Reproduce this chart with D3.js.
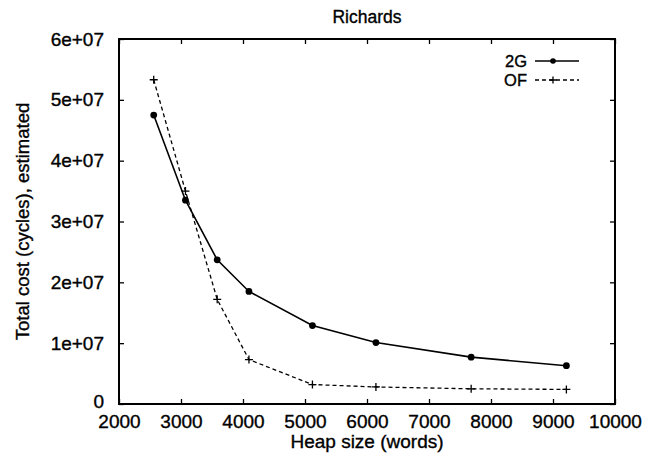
<!DOCTYPE html>
<html><head><meta charset="utf-8">
<script src="https://cdn.jsdelivr.net/npm/d3@7"></script>
<style>body{margin:0;background:#fff}svg{display:block}text{stroke:#000;stroke-width:0.35px}</style>
</head><body>
<script>
const heapSizes = [2560, 3072, 3584, 4096, 5120, 6144, 7680, 9216];
const cost2G = [4.75e7, 3.35e7, 2.37e7, 1.85e7, 1.29e7, 1.01e7, 0.77e7, 0.63e7];
const costOF = [5.33e7, 3.50e7, 1.72e7, 0.73e7, 0.32e7, 0.28e7, 0.25e7, 0.24e7];
const xTicks = [2000, 3000, 4000, 5000, 6000, 7000, 8000, 9000, 10000];
const yTicks = [0, 1e7, 2e7, 3e7, 4e7, 5e7, 6e7];
const yTickLabels = ["0", "1e+07", "2e+07", "3e+07", "4e+07", "5e+07", "6e+07"];
const seriesNames = ["2G", "OF"];

const W = 665, H = 457;
const m = {left: 119, right: 615, top: 39, bottom: 404};
const svg = d3.select("body").append("svg").attr("width", W).attr("height", H)
  .style("font-family", "'Liberation Sans', Arial, sans-serif");

const x = d3.scaleLinear().domain([2000, 10000]).range([m.left, m.right]);
const y = d3.scaleLinear().domain([0, 6e7]).range([m.bottom, m.top]);

const fs = "19px";
const tl = 5;
const xb = svg.append("g").attr("transform", `translate(0,${m.bottom})`)
  .call(d3.axisBottom(x).tickValues(xTicks).tickSize(-tl).tickPadding(11).tickFormat(d3.format("d")));
const xt = svg.append("g").attr("transform", `translate(0,${m.top})`)
  .call(d3.axisTop(x).tickValues(xTicks).tickSize(-tl).tickFormat(""));
const yl = svg.append("g").attr("transform", `translate(${m.left},0)`)
  .call(d3.axisLeft(y).tickValues(yTicks).tickSize(-tl).tickPadding(15).tickFormat((d,i)=>yTickLabels[i]));
const yr = svg.append("g").attr("transform", `translate(${m.right},0)`)
  .call(d3.axisRight(y).tickValues(yTicks).tickSize(-tl).tickFormat(""));
[xb, xt, yl, yr].forEach(g => {
  g.select(".domain").remove();
  g.selectAll(".tick line").attr("stroke", "#000").attr("stroke-width", 1.3);
  g.selectAll(".tick text").attr("fill", "#000").style("font-size", fs);
});
xb.selectAll(".tick text").attr("dy", "0.71em");
yl.selectAll(".tick text").filter(d => d === 0).attr("dy", "0.16em");

svg.append("rect").attr("x", m.left).attr("y", m.top)
  .attr("width", m.right - m.left).attr("height", m.bottom - m.top)
  .attr("fill", "none").attr("stroke", "#000").attr("stroke-width", 2);

svg.append("text").attr("x", (m.left + m.right) / 2).attr("y", 23).attr("text-anchor", "middle")
  .style("font-size", "17.5px").text("Richards");
svg.append("text").attr("x", (m.left + m.right) / 2).attr("y", 448).attr("text-anchor", "middle")
  .style("font-size", fs).text("Heap size (words)");
svg.append("text").attr("transform", `translate(29,${(m.top + m.bottom) / 2}) rotate(-90)`)
  .attr("text-anchor", "middle").style("font-size", "18.5px").text("Total cost (cycles), estimated");

const line = d3.line().x(d => x(d[0])).y(d => y(d[1]));
const d2G = heapSizes.map((h, i) => [h, cost2G[i]]);
const dOF = heapSizes.map((h, i) => [h, costOF[i]]);

svg.append("path").datum(d2G).attr("d", line).attr("fill", "none")
  .attr("stroke", "#000").attr("stroke-width", 1.6);
svg.append("path").datum(dOF).attr("d", line).attr("fill", "none")
  .attr("stroke", "#000").attr("stroke-width", 1.3).attr("stroke-dasharray", "4,3");

svg.selectAll(".m2g").data(d2G).enter().append("circle")
  .attr("cx", d => x(d[0])).attr("cy", d => y(d[1])).attr("r", 3.4).attr("fill", "#000");
const plus = (g, cx, cy, s) => {
  g.append("path").attr("d", `M${cx - s},${cy}H${cx + s}M${cx},${cy - s}V${cy + s}`)
    .attr("stroke", "#000").attr("stroke-width", 1.3);
};
const pg = svg.append("g");
dOF.forEach(d => plus(pg, x(d[0]), y(d[1]), 4));

const lfs = "16.5px";
const ly1 = 61, ly2 = 80;
const lx1 = 535, lx2 = 579;
svg.append("text").attr("x", 527).attr("y", ly1).attr("dy", "0.36em").attr("text-anchor", "end")
  .style("font-size", lfs).text(seriesNames[0]);
svg.append("line").attr("x1", lx1).attr("x2", lx2).attr("y1", ly1).attr("y2", ly1)
  .attr("stroke", "#000").attr("stroke-width", 1.6);
svg.append("circle").attr("cx", (lx1 + lx2) / 2 - 4).attr("cy", ly1).attr("r", 2.8).attr("fill", "#000");
svg.append("text").attr("x", 527).attr("y", ly2).attr("dy", "0.36em").attr("text-anchor", "end")
  .style("font-size", lfs).text(seriesNames[1]);
svg.append("line").attr("x1", lx1).attr("x2", lx2).attr("y1", ly2).attr("y2", ly2)
  .attr("stroke", "#000").attr("stroke-width", 1.3).attr("stroke-dasharray", "4,3");
plus(svg, (lx1 + lx2) / 2 - 4, ly2, 3.5);
</script>
</body></html>
